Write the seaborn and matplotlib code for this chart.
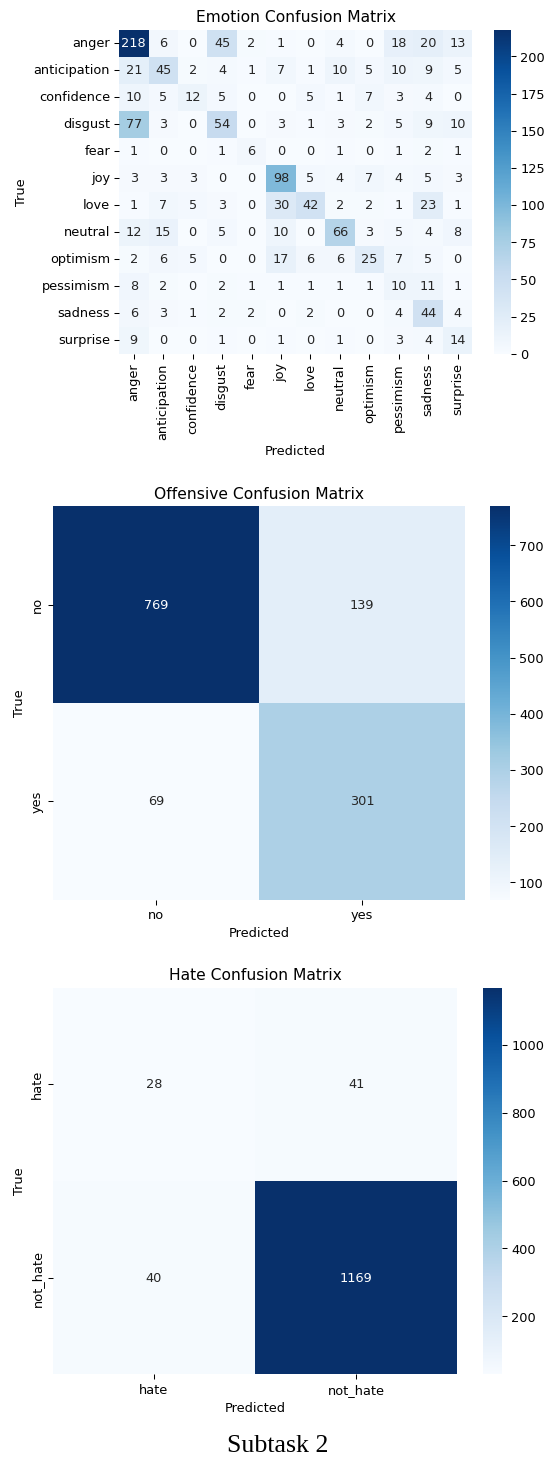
import numpy as np
import pandas as pd
import matplotlib
matplotlib.use("Agg")
import matplotlib.pyplot as plt
import seaborn as sns

emotion_labels = ["anger", "anticipation", "confidence", "disgust", "fear", "joy",
                  "love", "neutral", "optimism", "pessimism", "sadness", "surprise"]
emotion_cm = [
    [218, 6, 0, 45, 2, 1, 0, 4, 0, 18, 20, 13],
    [21, 45, 2, 4, 1, 7, 1, 10, 5, 10, 9, 5],
    [10, 5, 12, 5, 0, 0, 5, 1, 7, 3, 4, 0],
    [77, 3, 0, 54, 0, 3, 1, 3, 2, 5, 9, 10],
    [1, 0, 0, 1, 6, 0, 0, 1, 0, 1, 2, 1],
    [3, 3, 3, 0, 0, 98, 5, 4, 7, 4, 5, 3],
    [1, 7, 5, 3, 0, 30, 42, 2, 2, 1, 23, 1],
    [12, 15, 0, 5, 0, 10, 0, 66, 3, 5, 4, 8],
    [2, 6, 5, 0, 0, 17, 6, 6, 25, 7, 5, 0],
    [8, 2, 0, 2, 1, 1, 1, 1, 1, 10, 11, 1],
    [6, 3, 1, 2, 2, 0, 2, 0, 0, 4, 44, 4],
    [9, 0, 0, 1, 0, 1, 0, 1, 0, 3, 4, 14],
]

offensive_labels = ["no", "yes"]
offensive_cm = [[769, 139], [69, 301]]

hate_labels = ["hate", "not_hate"]
hate_cm = [[28, 41], [40, 1169]]

caption = "Subtask 2"

W, H = 546, 1457
DPI = 93
fig = plt.figure(figsize=(546.4 / DPI, 1457.4 / DPI), dpi=DPI)
plt.rcParams['font.family'] = ['DejaVu Sans']


def rect(x0, y0, x1, y1):
    return [x0 / W, 1 - y1 / H, (x1 - x0) / W, (y1 - y0) / H]


panels = [
    ("Emotion Confusion Matrix", emotion_cm, emotion_labels,
     rect(119, 30, 472, 354), rect(494, 30, 511, 354)),
    ("Offensive Confusion Matrix", offensive_cm, offensive_labels,
     rect(52.7, 506.6, 465, 900), rect(490, 506.6, 509.5, 900)),
    ("Hate Confusion Matrix", hate_cm, hate_labels,
     rect(52.7, 987.7, 457, 1374.5), rect(482.3, 987.7, 501.7, 1374.5)),
]

for title, cm, labels, axr, cbr in panels:
    ax = fig.add_axes(axr)
    cax = fig.add_axes(cbr)
    df = pd.DataFrame(cm, index=labels, columns=labels)
    sns.heatmap(df, annot=True, fmt="d", cmap="Blues", ax=ax, cbar_ax=cax)
    ax.set_title(title, fontsize=12)
    ax.set_xlabel("Predicted")
    ax.set_ylabel("True")

fig.text(277.7 / W, 1 - 1446 / H, caption, ha="center", va="center",
         fontsize=20, family=["Liberation Serif", "DejaVu Serif"])

fig.savefig("out.png", dpi=DPI)
